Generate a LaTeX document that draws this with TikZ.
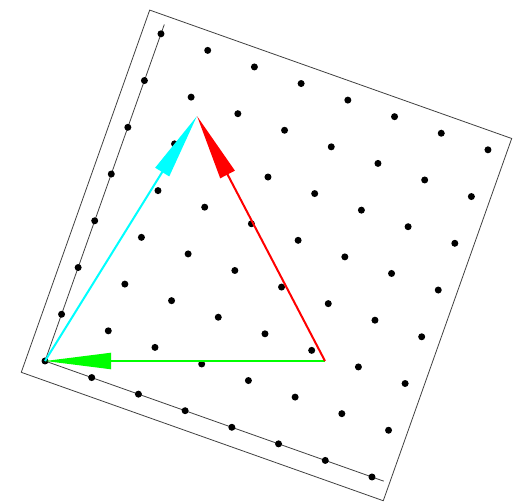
\documentclass[tikz,border=0pt]{standalone}
\usepackage{xcolor}
\usepackage{tikz}
\usetikzlibrary{positioning, arrows.meta, calc}
\definecolor{vgreen}{rgb}{0,1,0}
\definecolor{vcyan}{rgb}{0,1,1}
\definecolor{vred}{rgb}{1,0,0}

\begin{document}
\begin{tikzpicture}[
    x=1pt, y=-1pt,
    latpt/.style={circle, fill=black, inner sep=0pt, minimum size=7pt},
    edge/.style={draw=black!75, line width=0.8pt},
    vec/.style={line width=2pt, -{Triangle[length=66pt, width=16pt]}}
]
    \useasboundingbox (0,0) rectangle (522,502);
    % lattice, basis along the two edges
    \begin{scope}[shift={(45,361)}, x={(46.71pt,-16.57pt)}, y={(16.57pt,46.74pt)}]
        \coordinate (O) at (0,0);
        \coordinate (c-sw) at (-0.375,-0.375);
        \coordinate (c-se) at (7.375,-0.375);
        \coordinate (c-ne) at (7.375,7.375);
        \coordinate (c-nw) at (-0.375,7.375);
        \coordinate (e-x) at (7.25,0);
        \coordinate (e-y) at (0,7.2);
        \draw[edge] (c-sw) -- (c-se) -- (c-ne) -- (c-nw) -- cycle;
        \draw[edge] (e-y) -- (O) -- (e-x);
        \foreach \i in {0,...,7}
            \foreach \j in {0,...,7}
                \node[latpt] (p-\i-\j) at (\i,\j) {};
    \end{scope}
    \coordinate (P) at (325,361);
    \coordinate (Q) at (197,116);
    \draw[vec, vgreen] (P) -- (O);
    \draw[vec, vcyan] (O) -- (Q);
    \draw[vec, vred] (P) -- (Q);
\end{tikzpicture}
\end{document}
